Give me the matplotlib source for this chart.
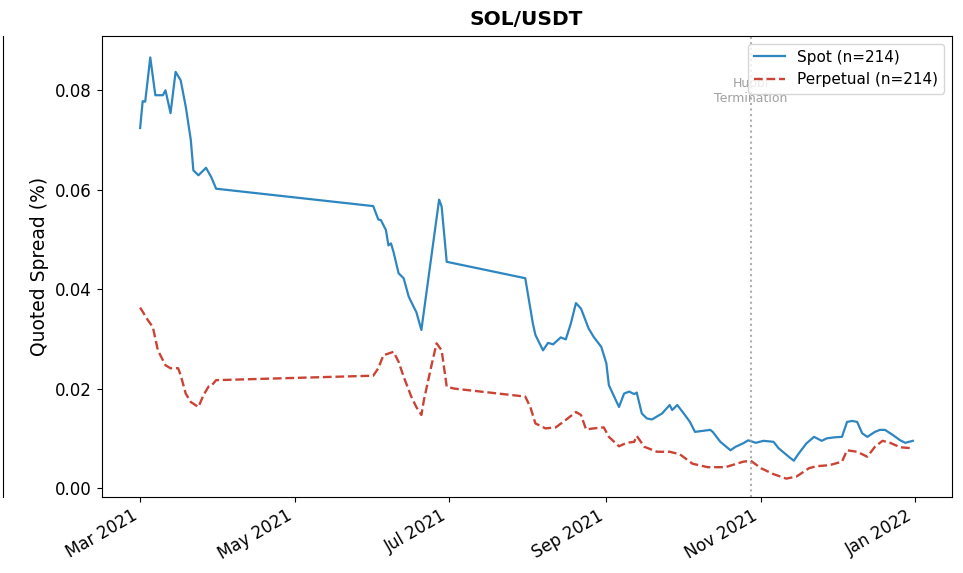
import pandas as pd
import matplotlib
matplotlib.use('Agg')
import matplotlib.pyplot as plt
import matplotlib.dates as mdates

start = pd.Timestamp('2021-03-01')

# days since 1 Mar 2021, quoted spread in %
spot_days = [0, 1, 2, 4, 6, 9, 10, 12, 14, 16, 18, 20, 21, 23, 26, 28, 30,
             92, 94, 95, 97, 98, 99, 100, 102, 104, 106, 108, 109, 111, 118, 119, 121,
             152, 155, 156, 159, 161, 163, 166, 168, 170, 172, 174, 177, 179, 182, 184,
             185, 189, 191, 193, 195, 196, 198, 200, 202, 206, 209, 210, 212, 215, 217,
             219, 225, 226, 229, 233, 235, 238, 240, 243, 246, 250, 252, 256, 258, 260,
             263, 266, 269, 271, 274, 277, 279, 281, 283, 285, 287, 290, 292, 294, 297,
             300, 302, 305]
spot_vals = [0.0724, 0.0778, 0.0777, 0.0866, 0.0790, 0.0790, 0.0800, 0.0754, 0.0837,
             0.0820, 0.0767, 0.0700, 0.0639, 0.0629, 0.0644, 0.0626, 0.0602,
             0.0567, 0.0540, 0.0539, 0.0519, 0.0488, 0.0492, 0.0475, 0.0432, 0.0422,
             0.0385, 0.0364, 0.0354, 0.0318, 0.0580, 0.0566, 0.0455,
             0.0422, 0.0331, 0.0308, 0.0277, 0.0292, 0.0289, 0.0303, 0.0299, 0.0331,
             0.0372, 0.0361, 0.0321, 0.0304, 0.0284, 0.0251,
             0.0207, 0.0163, 0.0190, 0.0194, 0.0189, 0.0192, 0.0150, 0.0140, 0.0138,
             0.0150, 0.0167, 0.0157, 0.0167, 0.0147, 0.0133,
             0.0113, 0.0117, 0.0113, 0.0093, 0.0076, 0.0083, 0.0090, 0.0096, 0.0091,
             0.0095, 0.0093, 0.0080, 0.0063, 0.0055, 0.0070,
             0.0090, 0.0103, 0.0095, 0.0100, 0.0102, 0.0103, 0.0133, 0.0135, 0.0133,
             0.0110, 0.0103, 0.0113, 0.0117, 0.0117, 0.0107,
             0.0096, 0.0091, 0.0095]

perp_days = [0, 3, 5, 7, 10, 12, 15, 16, 18, 20, 23, 25, 27, 28, 30,
             92, 94, 96, 100, 102, 104, 107, 109, 111, 112, 115, 117, 119, 121, 124,
             152, 154, 156, 160, 164, 168, 172, 174, 176, 179, 183, 185, 189, 192, 195,
             196, 199, 204, 209, 213, 218, 224, 231, 238, 241, 245, 250, 255, 259, 264,
             267, 272, 277, 279, 283, 287, 290, 293, 296, 300, 305]
perp_vals = [0.0363, 0.0338, 0.0324, 0.0277, 0.0247, 0.0241, 0.0241, 0.0227, 0.0190,
             0.0173, 0.0163, 0.0187, 0.0204, 0.0205, 0.0217,
             0.0226, 0.0241, 0.0267, 0.0274, 0.0254, 0.0224, 0.0184, 0.0163, 0.0147,
             0.0177, 0.0247, 0.0291, 0.0277, 0.0204, 0.0200,
             0.0184, 0.0163, 0.0130, 0.0120, 0.0122, 0.0137, 0.0153, 0.0147, 0.0118,
             0.0120, 0.0122, 0.0103, 0.0084, 0.0091, 0.0093,
             0.0105, 0.0083, 0.0073, 0.0073, 0.0068, 0.0049, 0.0042, 0.0042, 0.0053,
             0.0055, 0.0040, 0.0028, 0.0019, 0.0023, 0.0040,
             0.0044, 0.0046, 0.0053, 0.0076, 0.0073, 0.0063, 0.0083, 0.0095, 0.0091,
             0.0082, 0.0080]

event_date = pd.Timestamp('2021-10-28')
event_label = 'Huobi\nTermination'

spot_dates = start + pd.to_timedelta(spot_days, unit='D')
perp_dates = start + pd.to_timedelta(perp_days, unit='D')

fig = plt.figure(figsize=(9.63, 5.73), dpi=100)

# edge of the neighbouring panel, cut off on the left
ax0 = fig.add_axes([-0.3, 0.1326, 0.3026, 0.8045])
for s in ['left', 'top', 'bottom']:
    ax0.spines[s].set_visible(False)
ax0.set_xticks([])
ax0.set_yticks([])

ax = fig.add_axes([0.1054, 0.1326, 0.8827, 0.8045])
ax.plot(spot_dates, spot_vals, color='#2E86C1', lw=1.6, label='Spot (n=214)')
ax.plot(perp_dates, perp_vals, color='#CB4335', lw=1.7, ls='--', label='Perpetual (n=214)')

ax.axvline(event_date, color='#999999', ls=':', lw=1.5, alpha=0.8)
ax.text(event_date, 0.0826, event_label, ha='center', va='top', fontsize=9,
        color='#888888', alpha=0.8)

ax.set_ylim(-0.0018, 0.0909)
ax.set_ylabel('Quoted Spread (%)', fontsize=13.5)
ax.set_title('SOL/USDT', fontsize=14.5, fontweight='bold', pad=8)
ax.tick_params(axis='both', labelsize=12)

ax.xaxis.set_major_locator(mdates.MonthLocator(bymonth=[1, 3, 5, 7, 9, 11]))
ax.xaxis.set_major_formatter(mdates.DateFormatter('%b %Y'))
for lbl in ax.get_xticklabels():
    lbl.set_rotation(30)
    lbl.set_ha('right')

ax.legend(loc='upper right', fontsize=11)

fig.savefig('out.png', dpi=100)
